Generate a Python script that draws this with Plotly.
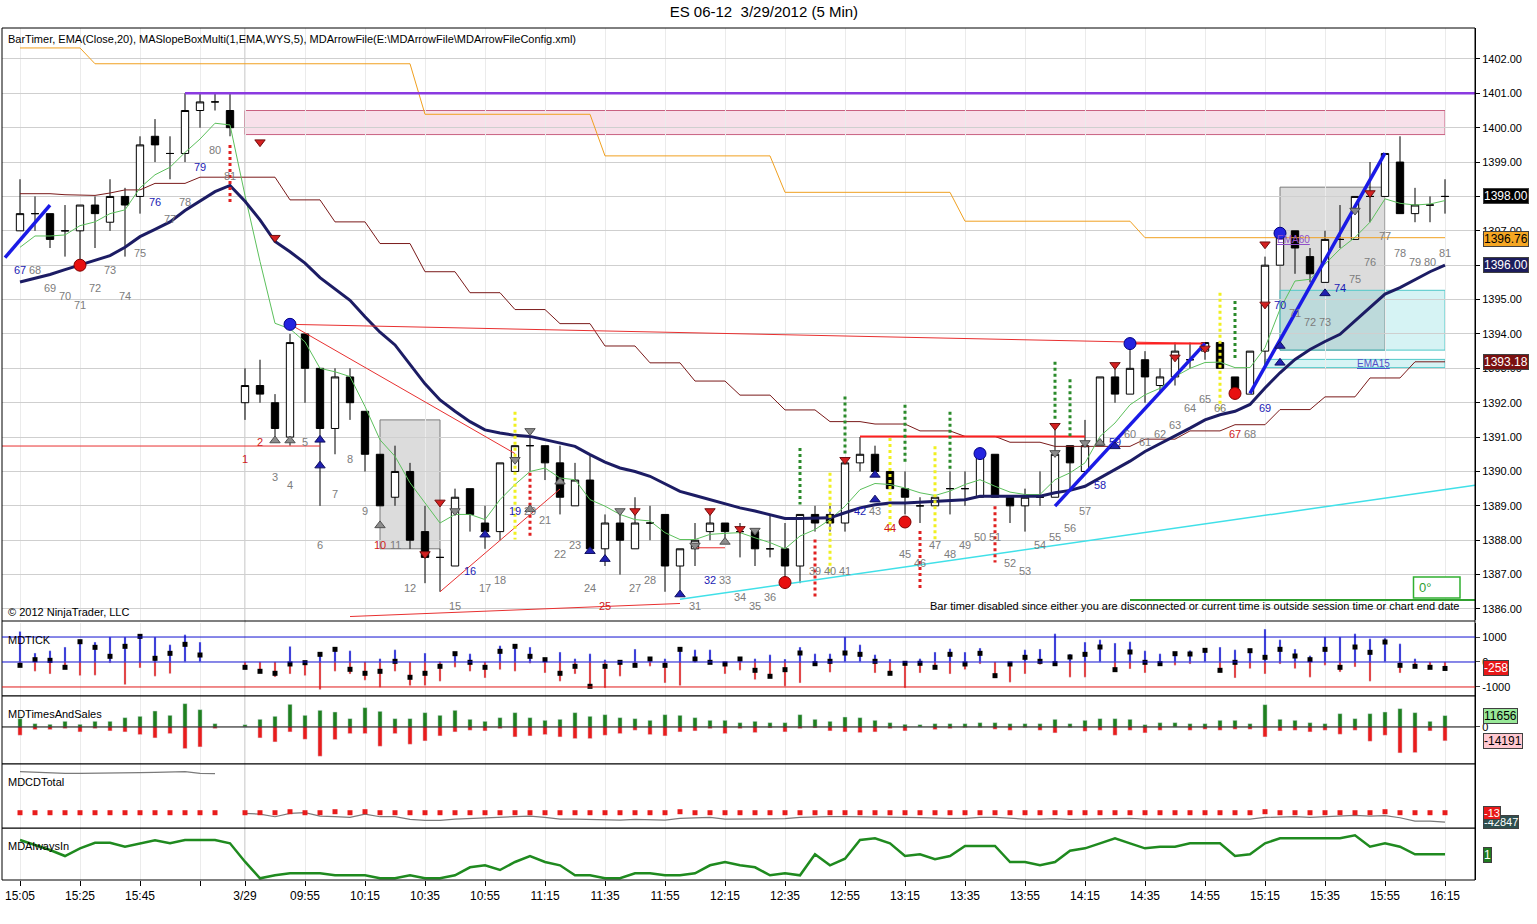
import plotly.graph_objects as go
from plotly.subplots import make_subplots

# ES 06-12, 5 min bars: last 15 bars of 3/28 (67..81) then the 3/29 session (1..81)
bar_numbers = list(range(67, 82)) + list(range(1, 82))

opens = [1397.0, 1397.5, 1397.5, 1397.0, 1397.0, 1397.75, 1397.25, 1398.0, 1398.0, 1399.75, 1399.25, 1399.25, 1400.5, 1400.75, 1400.5,
         1392.0, 1392.5, 1392.0, 1391.0, 1394.0, 1393.0, 1391.25, 1392.75, 1391.75, 1390.5,
         1389.25, 1390.0, 1388.25, 1387.5, 1387.25, 1389.5, 1388.5, 1388.25, 1390.0, 1390.75,
         1390.75, 1390.25, 1389.0, 1389.75, 1387.75, 1388.5, 1387.75, 1388.5, 1388.75, 1387.25,
         1387.75, 1388.25, 1388.5, 1388.25, 1388.25, 1387.75, 1387.75, 1387.25, 1388.75, 1388.75,
         1388.5, 1390.25, 1390.5, 1390.0, 1389.5, 1389.0, 1389.0, 1389.5, 1389.5, 1389.25,
         1390.5, 1389.25, 1389.0, 1389.25, 1389.25, 1390.75, 1390.0, 1390.75, 1392.75, 1392.25,
         1393.25, 1392.5, 1392.75, 1393.25, 1393.5, 1393.75, 1392.75, 1392.25, 1393.5, 1396.0,
         1397.0, 1396.25, 1395.5, 1396.75, 1396.75, 1398.0, 1398.0, 1399.0, 1397.5, 1397.75,
         1398.0]
highs = [1398.5, 1398.0, 1397.5, 1397.75, 1397.75, 1398.0, 1398.5, 1398.25, 1399.75, 1400.25, 1399.75, 1401.0, 1401.0, 1401.0, 1401.0,
         1393.0, 1393.25, 1392.25, 1394.0, 1394.0, 1393.0, 1393.0, 1393.0, 1391.75, 1390.5,
         1390.75, 1390.25, 1389.0, 1387.75, 1389.5, 1389.5, 1389.0, 1390.25, 1390.75, 1391.0,
         1390.75, 1390.75, 1390.25, 1390.5, 1388.75, 1388.75, 1389.25, 1389.0, 1388.75, 1387.75,
         1388.5, 1388.75, 1388.5, 1388.5, 1388.25, 1388.75, 1388.5, 1388.75, 1389.0, 1389.0,
         1390.25, 1391.0, 1390.75, 1390.0, 1390.0, 1389.25, 1389.25, 1390.0, 1390.0, 1390.5,
         1390.5, 1389.25, 1389.5, 1390.0, 1391.25, 1390.75, 1391.5, 1392.75, 1393.0, 1393.75,
         1393.5, 1393.0, 1393.75, 1393.75, 1393.75, 1393.75, 1392.75, 1393.5, 1396.25, 1397.0,
         1397.0, 1396.5, 1397.0, 1397.75, 1398.0, 1399.0, 1399.25, 1399.75, 1398.25, 1398.0,
         1398.5]
lows = [1397.0, 1397.0, 1396.5, 1396.25, 1396.0, 1396.5, 1397.0, 1396.25, 1397.5, 1399.0, 1398.5, 1399.0, 1400.0, 1400.5, 1399.75,
        1391.5, 1392.0, 1391.0, 1390.75, 1392.0, 1389.0, 1390.5, 1391.5, 1390.0, 1389.0,
        1389.0, 1387.75, 1386.75, 1386.5, 1387.25, 1388.25, 1387.75, 1388.0, 1390.0, 1390.0,
        1389.75, 1388.75, 1389.0, 1387.75, 1387.25, 1387.0, 1387.75, 1388.0, 1386.5, 1386.5,
        1387.25, 1388.0, 1388.0, 1387.5, 1387.25, 1387.5, 1386.75, 1386.75, 1388.25, 1388.25,
        1388.25, 1390.0, 1390.0, 1389.5, 1388.75, 1388.5, 1389.0, 1388.75, 1389.0, 1389.25,
        1389.25, 1388.5, 1388.25, 1389.0, 1389.25, 1389.5, 1390.0, 1390.75, 1392.0, 1392.25,
        1392.0, 1392.25, 1392.5, 1393.0, 1393.25, 1393.0, 1392.25, 1392.25, 1393.0, 1396.0,
        1395.75, 1395.5, 1395.5, 1396.5, 1396.75, 1397.25, 1398.0, 1397.5, 1397.25, 1397.25,
        1397.5]
closes = [1397.5, 1397.5, 1396.75, 1397.0, 1397.75, 1397.5, 1398.0, 1397.75, 1399.5, 1399.5, 1399.25, 1400.5, 1400.75, 1400.75, 1400.0,
          1392.5, 1392.25, 1391.25, 1393.75, 1393.0, 1391.25, 1392.75, 1392.0, 1390.5, 1389.0,
          1390.0, 1388.0, 1387.5, 1387.5, 1389.25, 1388.75, 1388.25, 1390.25, 1390.75, 1390.75,
          1390.25, 1389.25, 1389.75, 1387.75, 1388.5, 1388.0, 1388.5, 1388.5, 1387.25, 1387.75,
          1388.0, 1388.5, 1388.25, 1388.25, 1387.75, 1387.75, 1387.25, 1388.75, 1388.5, 1388.5,
          1390.25, 1390.5, 1390.0, 1389.5, 1389.25, 1389.0, 1389.25, 1389.5, 1389.5, 1390.5,
          1389.25, 1389.0, 1389.25, 1389.25, 1390.5, 1390.25, 1390.75, 1392.75, 1392.25, 1393.0,
          1392.75, 1392.75, 1393.5, 1393.25, 1393.75, 1393.0, 1392.25, 1393.5, 1396.0, 1397.0,
          1396.5, 1395.75, 1396.75, 1396.75, 1398.0, 1398.0, 1399.25, 1397.5, 1397.75, 1397.75,
          1398.0]

ema20 = [1395.51, 1395.62, 1395.73, 1395.87, 1396.0, 1396.14, 1396.28, 1396.52, 1396.83, 1397.04, 1397.26, 1397.59, 1397.86, 1398.14, 1398.32,
         1397.86, 1397.32, 1396.69, 1396.39, 1396.06, 1395.64,
         1395.3, 1394.98, 1394.5, 1394.05, 1393.68, 1393.1, 1392.55, 1392.08, 1391.75, 1391.45,
         1391.21, 1391.12, 1391.05, 1391.02, 1390.93, 1390.83, 1390.73, 1390.49, 1390.27, 1390.1,
         1390.0, 1389.86, 1389.65, 1389.42, 1389.3, 1389.18, 1389.06, 1388.94, 1388.85, 1388.75,
         1388.63, 1388.63, 1388.63, 1388.65, 1388.8, 1388.94, 1389.03, 1389.08, 1389.08,
         1389.1, 1389.12, 1389.15, 1389.18, 1389.28, 1389.28, 1389.27, 1389.26, 1389.28, 1389.38,
         1389.45, 1389.57, 1389.81, 1390.05, 1390.3, 1390.58, 1390.8, 1391.02, 1391.26, 1391.5, 1391.65,
         1391.75, 1391.95, 1392.43, 1392.87, 1393.26, 1393.55, 1393.78, 1393.99, 1394.38, 1394.77,
         1395.16, 1395.35, 1395.59, 1395.81, 1396.0]
ema_fast = [1396.52, 1396.85, 1396.85, 1396.88, 1397.15, 1397.26, 1397.5, 1397.61, 1398.25, 1398.63, 1398.85, 1399.28, 1399.67, 1400.13, 1400.08,
            1398.03, 1396.11, 1394.31, 1394.15, 1393.77, 1393.0,
            1392.9, 1392.76, 1391.89, 1390.92, 1390.44, 1389.67, 1389.09, 1388.5, 1388.75, 1388.75,
            1388.6, 1389.18, 1389.62, 1390.0, 1390.1, 1389.81, 1389.76, 1389.18, 1388.99, 1388.75,
            1388.6, 1388.56, 1388.22, 1388.02, 1388.02, 1388.17, 1388.2, 1388.22, 1388.07, 1387.93,
            1387.75, 1388.12, 1388.31, 1388.6, 1388.99, 1389.47, 1389.65, 1389.62, 1389.52,
            1389.38, 1389.3, 1389.43, 1389.62, 1389.76, 1389.57, 1389.4, 1389.33, 1389.33, 1389.76,
            1389.96, 1390.25, 1391.02, 1391.41, 1391.94, 1392.23, 1392.42, 1392.76, 1393.0, 1393.17, 1393.18,
            1393.02, 1393.02, 1393.6, 1394.72, 1395.54, 1395.59, 1396.03, 1396.47, 1396.81, 1397.25,
            1397.93, 1397.8, 1397.75, 1397.78, 1397.88]
orange_level = ([1402.32] * 5 + [1401.86] * 22 + [1400.39] * 12 + [1399.18] * 12
                + [1398.12] * 12 + [1397.28] * 12 + [1396.8] * 21)
brown_level = ([1398.08] * 3 + [1398.05, 1398.03, 1398.03, 1398.1, 1398.19, 1398.19] + [1398.38] * 3 + [1398.56] * 6
               + [1397.9] * 3 + [1397.26] * 3 + [1396.63] * 3 + [1395.81] * 3 + [1395.2] * 3 + [1394.71] * 3
               + [1394.3] * 3 + [1393.65] * 3 + [1393.16] * 3 + [1392.63] * 3 + [1392.22] * 3 + [1391.79] * 3
               + [1391.45] * 3 + [1391.38] * 3 + [1391.18] * 3 + [1391.02] * 3 + [1390.85] * 3 + [1390.73] * 6
               + [1390.94] * 3 + [1391.18] * 3 + [1391.36] * 3 + [1391.8] * 3 + [1392.17] * 3 + [1392.72] * 3
               + [1393.19] * 3)

# MDTICK (high / low / close of the tick index per bar)
tick_high = [1227, 360, 453, 600, 893, 800, 1000, 1000, 1093, 1000, 693, 1093, 800, None, None,
             0, 0, 0, 627, 0, 360, 600, 453, 0, 133, 493, 0, 360, 27, 400, 333, 0, 653, 693, 600,
             160, 400, 133, 333, 93, 27, 520, 200, 133, 560, 493, 493, 0, 120, 133, 293, 120, 600, 333, 333,
             1000, 693, 293, 120, 0, 133, 400, 533, 400, 560, 0, 0, 493, 520, 1133, 320, 800, 893, 760, 813,
             453, 333, 360, 467, 520, 600, 493, 520, 1320, 893, 520, 253, 1000, 1000, 1133, 933, 960, 733, 133, 0, 0]
tick_low = [-100, -373, -480, -213, -547, -533, -40, -907, -240, -573, -467, 0, 0, None, None,
            -307, -373, -600, -480, -547, -1107, -373, -480, -733, -1013, -373, -947, -947, -773, -213, -373, -640, -307, -373, -50,
            -440, -773, -480, -973, -1040, -573, -133, -173, -840, -947, -20, -67, -480, -333, -707, -640, -973, -840, -67, -413,
            0, 0, -440, -453, -1040, -440, -213, -480, -307, -80, -640, -813, -480, -107, -67, -613, -613, 0, -307, -280,
            -440, -67, -133, -80, 0, -413, -640, -267, -480, -80, -267, -613, -133, -400, -200, -773, 0, -440, -173, -213, -258]
tick_close = [-133, 93, 67, -213, 813, 587, 227, 627, 1027, 147, 347, 707, 280, None, None,
              -213, -373, -453, -80, -27, 307, 507, -293, -453, -373, 27, -613, -453, -173, 333, -13, -213, 427, 627, 227,
              93, -453, -173, -973, -173, -13, -133, 120, -133, 507, 120, -13, -80, 120, -333, -573, -307, 360, -67, 27,
              360, 307, 27, -453, -53, -53, -213, 307, -80, 347, -547, -80, 187, 27, -67, 200, 307, 600, -307, 400,
              -13, -67, 333, 320, 467, -333, -13, 453, 187, 507, 240, 93, 507, -213, 600, 387, 800, -133, -173, -213, -258]

# MDTimesAndSales (buy volume up, sell volume down)
ts_buy = [8500, 3400, 2720, 5780, 2720, 5780, 5780, 9520, 10880, 16320, 11900, 23800, 17680, 3400, None,
          2380, 7820, 10880, 23120, 11900, 17000, 15300, 8500, 19720, 15980, 8500, 8500, 14620, 11900, 17000,
          7820, 5780, 9520, 14620, 9520, 6800, 7820, 14620, 10880, 12580, 9520, 8500, 6800, 12580, 11900,
          9520, 6800, 6800, 4420, 5780, 4420, 4420, 12580, 7820, 5780, 10200, 9520, 6800, 4420, 2720,
          2380, 3400, 3400, 3400, 4420, 4420, 3400, 3400, 3400, 7820, 3400, 6800, 8500, 8500, 7820,
          2380, 4420, 4420, 3400, 3400, 6800, 6800, 3400, 22780, 7820, 6800, 4420, 3400, 13600, 8500,
          13600, 15300, 18700, 14620, 5780, 11656]
ts_sell = [-8500, -2720, -2720, -1700, -5100, -1700, -4080, -5100, -7820, -11220, -6800, -22100, -20400, -1700, None,
           0, -11220, -15300, -5100, -12580, -29920, -12920, -6800, -6800, -19720, -6800, -17680, -14280, -9180, -5100,
           -3400, -4080, -1700, -10200, -9180, -7820, -10200, -11900, -11900, -8500, -6800, -3400, -7820, -9180, -5100,
           -4080, -1700, -6800, -1700, -5780, -1020, -5100, -1700, -1020, -4080, -5100, -5780, -5100, -1700, -4080,
           0, -2720, -1700, -680, -680, -2380, -3400, -680, -3400, -6120, -680, -4420, -3400, -8500, -3400,
           -6120, -3400, 0, -3400, -2380, -3400, -2380, -2380, -10200, -4080, -3400, -5100, -3400, -7480, -3400,
           -14620, -8500, -26520, -26180, -4080, -14191]

# MDCDTotal
cd_total = [188190, 185130, 183600, 180540, 180540, 180540, 180540, 183600, 183600, 185130, 186660, 188190, 180540, 179010, None,
            -3060, -6120, -18360, -3060, 0, -15300, -18360, -21420, -6120, -18360, -18360, -30600, -35190, -35190, -29070,
            -26010, -26010, -21420, -18360, -15300, -21420, -29070, -29070, -30600, -33660, -33660, -30600, -33660, -33660, -26010,
            -22950, -21420, -29070, -29070, -29070, -29070, -27540, -21420, -18360, -18360, -18360, -18360, -18360, -18360, -21420,
            -22950, -26010, -26010, -26010, -21420, -21420, -26010, -29070, -29070, -27540, -30600, -29070, -27540, -26010, -26010,
            -29070, -29070, -29070, -29070, -29070, -29070, -29070, -29070, -21420, -18360, -18360, -21420, -18360, -15300, -12240,
            -15300, -13770, -22950, -38250, -38250, -42847]
cd_delta = [-13, -13, -13, -13, -13, -13, -13, -13, -13, -13, -13, -13, -13, -13, None,
            -13, -13, -13, 4590, -13, -13, 4590, -13, 4590, -13, -13, -13, -13, -13, -13,
            -13, -13, -13, -13, -13, -13, -13, -13, -13, -13, -13, -13, -13, -13, 4590,
            -13, -13, -13, -13, -13, -13, -13, -13, -13, -13, -13, -13, -13, -13, -13,
            -13, -13, -13, -13, -13, -13, -13, -13, -13, -13, -13, -13, -13, -13, -13,
            -13, -13, -13, -13, -13, -13, -13, -13, 4590, -13, -13, -13, -13, -13, -13,
            -13, 4590, -13, -13, -13, -13]

# MDAlwaysIn
always_in = [16, 11, 6, 0, 7.7, 13.3, 13.3, 9.3, 12.7, 15.7, 12.7, 16, 16, 16, 12.7,
             -5.7, -22.3, -19.3, -17.3, -17.3, -17.3, -19.3, -19.3, -19.3, -22.3, -22.3, -19.3, -22.3, -22.3, -19.3,
             -11.3, -9.3, -14, -6, 0, -6, -9.3, -19.3, -19.3, -22.3, -22.3, -17.3, -17.3, -19.3, -19.3,
             -17.3, -9.3, -6, -9.3, -11.3, -19.3, -17.3, -19.3, 1.7, -9.3, -2.7, 16, 17.7, 12.7, 0,
             1.7, -3.3, 0, 10, 10, 10, -6, -6, -9.3, -6, 5.3, 7.7, 12.7, 17.7, 12.7,
             7.7, 9.3, 9.3, 12.7, 12.7, 12.7, 0, 1.7, 12.7, 17.7, 17.7, 17.7, 17.7, 17.7, 20.7,
             9.3, 12.7, 9.3, 1.7, 1.7, 1.7]

# axis ticks (bar index -> time label)
tick_idx = [0, 4, 8, 12, 15] + list(range(19, 96, 4))
tick_text = ["15:05", "15:25", "15:45", "", "3/29", "09:55", "10:15", "10:35", "10:55", "11:15", "11:35",
             "11:55", "12:15", "12:35", "12:55", "13:15", "13:35", "13:55", "14:15", "14:35", "14:55",
             "15:15", "15:35", "15:55", "16:15"]
price_ticks = list(range(1386, 1403))
price_tick_text = [f"{v}.00" for v in price_ticks]

# drawn objects on the price panel: (bar0, price0, bar1, price1)
red_thin = [(18, 1394.28, 79, 1393.72), (18, 1394.28, 33, 1390.52), (28, 1386.5, 36, 1389.49),
            (-1.2, 1390.74, 20, 1390.74), (22, 1385.78, 44, 1386.16), (45, 1387.78, 47, 1387.78)]
red_thick = [(56, 1391.02, 71, 1391.02), (74, 1393.72, 79, 1393.72)]
blue_trend = [(-1, 1396.22, 2, 1397.75), (69, 1388.99, 79, 1393.72), (82, 1392.27, 91, 1399.26)]
cyan_trend = [(44, 1386.28, 97, 1389.6)]
green_flat = [(74, 1386.26, 97, 1386.26)]
purple_level = (11, 1401.0)
pink_zone = (15, 95, 1399.8, 1400.5)
gray_boxes = [(24, 28, 1387.75, 1391.5), (84, 91, 1393.53, 1398.27)]
cyan_boxes = [(84, 95, 1393.53, 1395.27), (83, 95, 1393.02, 1393.26)]

# arrows / dots (bar index, price)
red_down = [(16, 1399.58), (17, 1396.8), (27, 1387.6), (28, 1389.1), (41, 1388.85), (46, 1388.85), (48, 1388.33),
            (55, 1390.34), (69, 1391.33), (73, 1393.1), (77, 1393.32), (79, 1393.58), (83, 1396.61), (83, 1394.86),
            (90, 1398.1)]
blue_up = [(20, 1390.92), (20, 1390.17), (31, 1388.16), (38, 1387.68), (39, 1387.45), (44, 1386.42), (57, 1389.9),
           (57, 1389.18), (73, 1390.73), (84, 1393.65), (84, 1393.16), (87, 1395.18)]
gray_up = [(17, 1390.9), (18, 1390.9), (24, 1388.43), (34, 1388.9), (36, 1389.7), (47, 1387.95), (72, 1390.83)]
gray_down = [(29, 1388.85), (33, 1390.34), (34, 1391.18), (40, 1388.85), (45, 1387.85), (49, 1388.28), (69, 1390.54),
             (71, 1390.83), (89, 1397.59)]
red_dots = [(4, 1396.0), (51, 1386.77), (59, 1388.53), (81, 1392.27)]
blue_dots = [(18, 1394.28), (64, 1390.52), (74, 1393.72), (84, 1396.93)]

# dotted signal columns (bar index, top, bottom)
red_dotted = [(14, 1399.5, 1397.75), (34, 1389.96, 1388.07), (53, 1388.02, 1386.33), (60, 1388.27, 1386.57),
              (65, 1388.99, 1387.35)]
green_dotted = [(52, 1390.68, 1389.04), (55, 1392.18, 1390.44), (59, 1391.94, 1390.25), (62, 1391.74, 1390.0),
                (69, 1393.19, 1391.5), (70, 1392.68, 1391.02), (81, 1394.96, 1393.26)]
yellow_dotted = [(33, 1391.74, 1388.02), (54, 1389.96, 1387.0), (58, 1390.97, 1388.22), (61, 1390.73, 1388.02),
                 (80, 1395.2, 1391.8)]

# bar-number label colours (bar index) and labels that are not shown
blue_labels = [0, 9, 12, 30, 33, 46, 56, 72, 73, 83, 84, 88]
red_labels = [15, 16, 24, 39, 58, 81]
hidden_labels = [27, 28, 40, 43, 44, 51, 52]

idx = list(range(len(bar_numbers)))
FONT = "Liberation Sans, Arial, sans-serif"
X_END = 97.0

fig = make_subplots(rows=5, cols=1, shared_xaxes=True, vertical_spacing=0)

fig.add_trace(go.Candlestick(
    x=idx, open=opens, high=highs, low=lows, close=closes,
    increasing=dict(fillcolor="white", line=dict(color="black", width=1)),
    decreasing=dict(fillcolor="black", line=dict(color="black", width=1)),
    whiskerwidth=0, showlegend=False, hoverinfo="skip"), row=1, col=1)

fig.add_trace(go.Scatter(x=idx, y=orange_level, mode="lines", line=dict(color="#f0a020", width=1),
                         showlegend=False, hoverinfo="skip"), row=1, col=1)
fig.add_trace(go.Scatter(x=idx, y=brown_level, mode="lines", line=dict(color="#7a1a1a", width=1),
                         showlegend=False, hoverinfo="skip"), row=1, col=1)
fig.add_trace(go.Scatter(x=idx, y=ema_fast, mode="lines", line=dict(color="#5cc05c", width=1),
                         showlegend=False, hoverinfo="skip"), row=1, col=1)
fig.add_trace(go.Scatter(x=idx, y=ema20, mode="lines", line=dict(color="#1c1c64", width=3),
                         showlegend=False, hoverinfo="skip"), row=1, col=1)


def seg_trace(segs, color, width, dash="solid"):
    xs, ys = [], []
    for x0, y0, x1, y1 in segs:
        xs += [x0, x1, None]
        ys += [y0, y1, None]
    return go.Scatter(x=xs, y=ys, mode="lines", line=dict(color=color, width=width, dash=dash),
                      showlegend=False, hoverinfo="skip")


def col_trace(cols, color):
    segs = [(i, top, i, bot) for i, top, bot in cols]
    return seg_trace(segs, color, 3, "dot")


def marker_trace(points, symbol, color, line_color, size):
    return go.Scatter(x=[p[0] for p in points], y=[p[1] for p in points], mode="markers",
                      marker=dict(symbol=symbol, color=color, size=size, line=dict(color=line_color, width=1)),
                      showlegend=False, hoverinfo="skip")


fig.add_trace(seg_trace(red_thin, "#e83030", 1), row=1, col=1)
fig.add_trace(seg_trace(red_thick, "#ff2020", 2), row=1, col=1)
fig.add_trace(seg_trace(cyan_trend, "#40e0e8", 1.5), row=1, col=1)
fig.add_trace(seg_trace(green_flat, "#30a030", 2), row=1, col=1)
fig.add_trace(seg_trace([(purple_level[0], purple_level[1], X_END, purple_level[1])], "#8a3ae0", 2.5), row=1, col=1)
fig.add_trace(seg_trace(blue_trend, "#1a1ae6", 3.5), row=1, col=1)
fig.add_trace(col_trace(red_dotted, "#e02020"), row=1, col=1)
fig.add_trace(col_trace(green_dotted, "#2a8a2a"), row=1, col=1)
fig.add_trace(col_trace(yellow_dotted, "#f0f020"), row=1, col=1)
fig.add_trace(marker_trace(red_down, "triangle-down", "#d42020", "#701010", 9), row=1, col=1)
fig.add_trace(marker_trace(blue_up, "triangle-up", "#2020b0", "#101060", 9), row=1, col=1)
fig.add_trace(marker_trace(gray_up, "triangle-up", "#8c8c8c", "#505050", 9), row=1, col=1)
fig.add_trace(marker_trace(gray_down, "triangle-down", "#8c8c8c", "#505050", 9), row=1, col=1)
fig.add_trace(marker_trace(red_dots, "circle", "#e81010", "#800000", 12), row=1, col=1)
fig.add_trace(marker_trace(blue_dots, "circle", "#2424e0", "#000080", 12), row=1, col=1)

# zones
x0, x1, y0, y1 = pink_zone
fig.add_shape(type="rect", xref="x", yref="y", x0=x0, x1=x1, y0=y0, y1=y1,
              fillcolor="rgba(232,160,190,0.32)", line=dict(color="#c86080", width=1), layer="below")
for x0, x1, y0, y1 in gray_boxes:
    fig.add_shape(type="rect", xref="x", yref="y", x0=x0, x1=x1, y0=y0, y1=y1,
                  fillcolor="rgba(140,140,140,0.3)", line=dict(color="#7a7a7a", width=1), layer="below")
for x0, x1, y0, y1 in cyan_boxes:
    fig.add_shape(type="rect", xref="x", yref="y", x0=x0, x1=x1, y0=y0, y1=y1,
                  fillcolor="rgba(120,215,220,0.3)", line=dict(color="#50c8c8", width=1), layer="below")
# "0°" bar timer box
fig.add_shape(type="rect", xref="x", yref="y", x0=92.9, x1=96.0, y0=1386.32, y1=1386.93,
              fillcolor="white", line=dict(color="#30b030", width=1.5))
# session break
fig.add_shape(type="line", xref="x", yref="paper", x0=15, x1=15, y0=0, y1=1,
              line=dict(color="#b4b4b4", width=1), layer="below")
# panel borders
fig.add_shape(type="rect", xref="paper", yref="paper", x0=0, x1=1, y0=0, y1=1,
              line=dict(color="black", width=1))
for yp in [0.304, 0.216, 0.1362, 0.061]:
    fig.add_shape(type="line", xref="paper", yref="paper", x0=0, x1=1, y0=yp, y1=yp,
                  line=dict(color="black", width=1.2))

# subpanel 2: MDTICK
fig.add_trace(go.Bar(x=idx, y=tick_high, marker_color="#1010d0", width=0.14, showlegend=False, hoverinfo="skip"), row=2, col=1)
fig.add_trace(go.Bar(x=idx, y=tick_low, marker_color="#e01818", width=0.14, showlegend=False, hoverinfo="skip"), row=2, col=1)
fig.add_trace(go.Scatter(x=idx, y=tick_close, mode="markers", marker=dict(symbol="square", color="black", size=5),
                         showlegend=False, hoverinfo="skip"), row=2, col=1)
fig.add_hline(y=1000, line=dict(color="#1010d0", width=1), row=2, col=1)
fig.add_hline(y=0, line=dict(color="#1010d0", width=1), row=2, col=1)
fig.add_hline(y=-1000, line=dict(color="#e01818", width=1), row=2, col=1)

# subpanel 3: MDTimesAndSales
fig.add_trace(go.Bar(x=idx, y=ts_buy, marker_color="#1f7f1f", width=0.28, showlegend=False, hoverinfo="skip"), row=3, col=1)
fig.add_trace(go.Bar(x=idx, y=ts_sell, marker_color="#e81c1c", width=0.28, showlegend=False, hoverinfo="skip"), row=3, col=1)
fig.add_hline(y=0, line=dict(color="black", width=1), row=3, col=1)

# subpanel 4: MDCDTotal
fig.add_hline(y=0, line=dict(color="black", width=1), row=4, col=1)
fig.add_trace(go.Scatter(x=idx, y=cd_total, mode="lines", line=dict(color="#7a7a7a", width=1.2),
                         showlegend=False, hoverinfo="skip"), row=4, col=1)
fig.add_trace(go.Scatter(x=idx, y=cd_delta, mode="markers", marker=dict(symbol="square", color="#e81c1c", size=5),
                         showlegend=False, hoverinfo="skip"), row=4, col=1)

# subpanel 5: MDAlwaysIn
fig.add_hline(y=0, line=dict(color="black", width=1), row=5, col=1)
fig.add_trace(go.Scatter(x=idx, y=always_in, mode="lines", line=dict(color="#1f8a1f", width=2.5),
                         showlegend=False, hoverinfo="skip"), row=5, col=1)

annotations = []
# bar numbers under each bar
for i, (num, lo) in enumerate(zip(bar_numbers, lows)):
    if i in hidden_labels:
        continue
    color = "#1a1ab4" if i in blue_labels else ("#d01a1a" if i in red_labels else "#7c7c7c")
    annotations.append(dict(x=i, y=lo - 1.15, xref="x", yref="y", text=str(num), showarrow=False,
                            yanchor="middle", font=dict(family=FONT, size=11, color=color)))

annotations.append(dict(x=84.9, y=1396.76, xref="x", yref="y", text="<u>EMA60</u>", showarrow=False,
                        font=dict(family=FONT, size=10, color="#9050c8")))
annotations.append(dict(x=90.2, y=1393.14, xref="x", yref="y", text="<u>EMA15</u>", showarrow=False,
                        font=dict(family=FONT, size=10, color="#5050c8")))
annotations.append(dict(x=93.1, y=1386.62, xref="x", yref="y", text="0°", showarrow=False, xanchor="left",
                        font=dict(family=FONT, size=13, color="#30a030")))

# right-axis value tags (axis row, value, text, background, text colour, font size)
tags = [(1, 1398.00, "1398.00", "black", "white", 12),
        (1, 1396.76, "1396.76", "#f5a623", "black", 12),
        (1, 1396.00, "1396.00", "#1c1c5c", "white", 12),
        (1, 1393.18, "1393.18", "#7a1010", "white", 12),
        (2, -258, "-258", "#e81818", "white", 12),
        (3, 11656, "11656", "#98e898", "black", 12),
        (3, -14191, "-14191", "#ffc8d0", "black", 12),
        (4, -42847, "-42847", "#2f4f4f", "white", 11),
        (4, -13, "-13", "#e81818", "white", 11),
        (5, 1, "1", "#1f7a1f", "white", 12)]
for row, val, txt, bg, fg, fs in tags:
    yref = "y" if row == 1 else f"y{row}"
    fig.add_trace(go.Scatter(x=[X_END + 0.3], y=[val], mode="markers", cliponaxis=False,
                             marker=dict(symbol="triangle-left", size=10, color=bg,
                                         line=dict(color="#404040", width=1)),
                             showlegend=False, hoverinfo="skip"), row=row, col=1)
    annotations.append(dict(x=1, xref="paper", xanchor="left", xshift=8, y=val, yref=yref, yanchor="middle",
                            text=txt, showarrow=False, bgcolor=bg, bordercolor="#404040", borderwidth=1,
                            borderpad=0, font=dict(family=FONT, size=fs, color=fg)))

# texts
annotations.append(dict(x=0.003, y=0.987, xref="paper", yref="paper", xanchor="left", yanchor="middle", showarrow=False,
                        text="BarTimer, EMA(Close,20), MASlopeBoxMulti(1,EMA,WYS,5), MDArrowFile(E:\\MDArrowFile\\MDArrowFileConfig.xml)",
                        font=dict(family=FONT, size=11, color="black")))
annotations.append(dict(x=0.003, y=0.3146, xref="paper", yref="paper", xanchor="left", yanchor="middle", showarrow=False,
                        text="© 2012 NinjaTrader, LLC", font=dict(family=FONT, size=11, color="black")))
annotations.append(dict(x=0.9912, y=0.3216, xref="paper", yref="paper", xanchor="right", yanchor="middle", showarrow=False,
                        text="Bar timer disabled since either you are disconnected or current time is outside session time or chart end date",
                        font=dict(family=FONT, size=11, color="black")))
for txt, yp in [("MDTICK", 0.2817), ("MDTimesAndSales", 0.1948), ("MDCDTotal", 0.115), ("MDAlwaysIn", 0.0399)]:
    annotations.append(dict(x=0.003, y=yp, xref="paper", yref="paper", xanchor="left", yanchor="middle",
                            showarrow=False, text=txt, font=dict(family=FONT, size=11, color="black")))

# tick labels fully hidden by value tags in the original
price_tick_text = [("" if v in (1398, 1396) else t) for v, t in zip(price_ticks, price_tick_text)]

fig.update_layout(
    width=1537, height=924,
    margin=dict(l=2, r=62, t=28, b=44),
    paper_bgcolor="white", plot_bgcolor="white",
    barmode="overlay", showlegend=False,
    title=dict(text="ES 06-12  3/29/2012 (5 Min)", x=0.497, xanchor="center", y=0.987, yanchor="middle",
               font=dict(family=FONT, size=15, color="black")),
    font=dict(family=FONT, size=11, color="black"),
    annotations=annotations,
    yaxis=dict(domain=[0.3052, 1.0], range=[1385.68, 1402.9], side="right",
               tickvals=price_ticks, ticktext=price_tick_text,
               showgrid=True, gridcolor="#cfcfcf", ticks="outside", ticklen=4, tickcolor="black",
               showline=True, linecolor="black", zeroline=False),
    yaxis2=dict(domain=[0.2160, 0.3016], range=[-1360, 1560], side="right",
                tickvals=[1000, 0, -1000], ticktext=["1000", "0", "-1000"], showgrid=False, zeroline=False,
                ticks="outside", ticklen=4, showline=True, linecolor="black"),
    yaxis3=dict(domain=[0.1362, 0.2160], range=[-37740, 31620], side="right",
                tickvals=[0], ticktext=["0"], showgrid=False, zeroline=False,
                ticks="outside", ticklen=4, showline=True, linecolor="black"),
    yaxis4=dict(domain=[0.0610, 0.1362], range=[-70200, 223500], side="right",
                showticklabels=False, showgrid=False, zeroline=False, showline=True, linecolor="black"),
    yaxis5=dict(domain=[0.0, 0.0610], range=[-24, 28], side="right",
                showticklabels=False, showgrid=False, zeroline=False, showline=True, linecolor="black"),
)
fig.update_xaxes(range=[-1.2, X_END], tickvals=tick_idx, ticktext=tick_text, showgrid=True,
                 gridcolor="#ebebeb", zeroline=False, rangeslider_visible=False)
fig.update_xaxes(showticklabels=False, row=1, col=1)
fig.update_xaxes(showticklabels=False, row=2, col=1)
fig.update_xaxes(showticklabels=False, row=3, col=1)
fig.update_xaxes(showticklabels=False, row=4, col=1)
fig.update_xaxes(showticklabels=True, ticks="outside", ticklen=5, tickcolor="black",
                 tickfont=dict(family=FONT, size=12), row=5, col=1)

fig.write_html("out.html", config={"displayModeBar": False},
               post_script="document.body.style.margin='0px';")
